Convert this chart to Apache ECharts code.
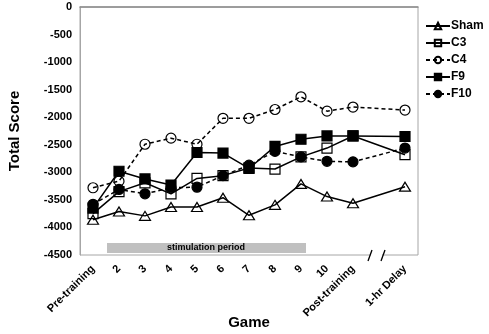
<!DOCTYPE html>
<html>
<head>
<meta charset="utf-8">
<script src="https://cdn.jsdelivr.net/npm/echarts@6/dist/echarts.min.js"></script>
<style>
    html, body { margin: 0; padding: 0; background: #fff; }
    #main { width: 489px; height: 334px; }
</style>
</head>
<body>
<div id="main"></div>
<script>
// game labels, '' is the break before the delay test
var games = ['Pre-training', '2', '3', '4', '5', '6', '7', '8', '9', '10', 'Post-training', '', '1-hr Delay'];
var yTicks = [0, -500, -1000, -1500, -2000, -2500, -3000, -3500, -4000, -4500];

// values (12 points, no value on the break slot)
var sham = [-3860, -3710, -3790, -3630, -3630, -3460, -3780, -3590, -3210, -3440, -3560, -3260];
var c3 = [-3750, -3350, -3190, -3390, -3110, -3060, -2920, -2940, -2720, -2560, -2340, -2680];
var c4 = [-3280, -3160, -2490, -2380, -2490, -2020, -2020, -1860, -1630, -1890, -1815, -1870];
var f9 = [-3650, -2980, -3120, -3230, -2640, -2650, -2930, -2530, -2400, -2340, -2340, -2350];
var f10 = [-3580, -3310, -3390, -3280, -3270, -3060, -2870, -2620, -2720, -2800, -2810, -2560];

var gapIndex = 11;
function withGap(arr) {
    var out = arr.slice(0, gapIndex);
    out.push(null);
    return out.concat(arr.slice(gapIndex));
}

function makeSeries(name, data, symbol, filled, dashed, size) {
    return {
        name: name,
        type: 'line',
        data: withGap(data),
        connectNulls: true,
        symbol: symbol,
        symbolSize: size,
        lineStyle: { color: '#000', width: 1.5, type: dashed ? [4, 3] : 'solid' },
        itemStyle: {
            color: filled ? '#000' : 'rgba(255,255,255,0)',
            borderColor: '#000',
            borderWidth: 1.2
        },
        emphasis: { disabled: true },
        z: filled ? 3 : 2
    };
}

var myChart = echarts.init(document.getElementById('main'));
var option = {
    animation: false,
    textStyle: { fontFamily: 'Arial, "Liberation Sans", sans-serif' },
    grid: {
        left: 80,
        right: 71,
        top: 7,
        bottom: 79,
        outerBoundsMode: 'none',
        containLabel: false,
        show: true,
        borderColor: '#a6a6a6',
        borderWidth: 1
    },
    legend: {
        orient: 'vertical',
        left: 420,
        top: 15,
        itemWidth: 24,
        itemHeight: 8,
        itemGap: 5,
        textStyle: { fontSize: 12, fontWeight: 'bold', color: '#000', padding: [0, 0, 0, -4] },
        data: ['Sham', 'C3', 'C4', 'F9', 'F10']
    },
    xAxis: {
        type: 'category',
        data: games,
        boundaryGap: true,
        name: 'Game',
        nameLocation: 'middle',
        nameMoveOverlap: false,
        nameGap: 60,
        nameTextStyle: { fontSize: 15, fontWeight: 'bold', color: '#000' },
        axisLine: { lineStyle: { color: '#8c8c8c', width: 1.5 } },
        axisTick: { show: false },
        axisLabel: {
            rotate: 45,
            interval: 0,
            fontSize: 11,
            fontWeight: 'bold',
            color: '#000',
            margin: 12
        }
    },
    yAxis: {
        type: 'value',
        min: -4500,
        max: 0,
        interval: 500,
        name: 'Total Score',
        nameLocation: 'middle',
        nameMoveOverlap: false,
        nameGap: 58,
        nameTextStyle: { fontSize: 15, fontWeight: 'bold', color: '#000' },
        axisLine: { show: true, lineStyle: { color: '#a6a6a6' } },
        axisTick: { show: false },
        splitLine: { show: false },
        axisLabel: {
            fontSize: 11,
            fontWeight: 'bold',
            color: '#000',
            margin: 8,
            formatter: function (v) { return yTicks.indexOf(v) >= 0 ? String(v) : ''; }
        }
    },
    graphic: [
        {   // stimulation period bar
            type: 'rect',
            shape: { x: 107, y: 243, width: 199, height: 10 },
            style: { fill: '#c0c0c0' },
            z: 1
        },
        {
            type: 'text',
            x: 206,
            y: 248,
            style: {
                text: 'stimulation period',
                fill: '#000',
                font: 'bold 9px Arial, "Liberation Sans", sans-serif',
                align: 'center',
                verticalAlign: 'middle'
            },
            z: 2
        },
        {   // axis break
            type: 'rect',
            shape: { x: 371, y: 252, width: 11, height: 6 },
            style: { fill: '#fff' },
            z: 10
        },
        {
            type: 'line',
            shape: { x1: 368, y1: 261, x2: 372, y2: 250 },
            style: { stroke: '#000', lineWidth: 1.3 },
            z: 11
        },
        {
            type: 'line',
            shape: { x1: 381, y1: 261, x2: 385, y2: 250 },
            style: { stroke: '#000', lineWidth: 1.3 },
            z: 11
        }
    ],
    series: [
        makeSeries('Sham', sham, 'triangle', false, false, [11, 9]),
        makeSeries('C3', c3, 'rect', false, false, 10),
        makeSeries('C4', c4, 'circle', false, true, 10),
        makeSeries('F9', f9, 'rect', true, false, 10),
        makeSeries('F10', f10, 'circle', true, true, 10)
    ]
};
myChart.setOption(option);
</script>
</body>
</html>
